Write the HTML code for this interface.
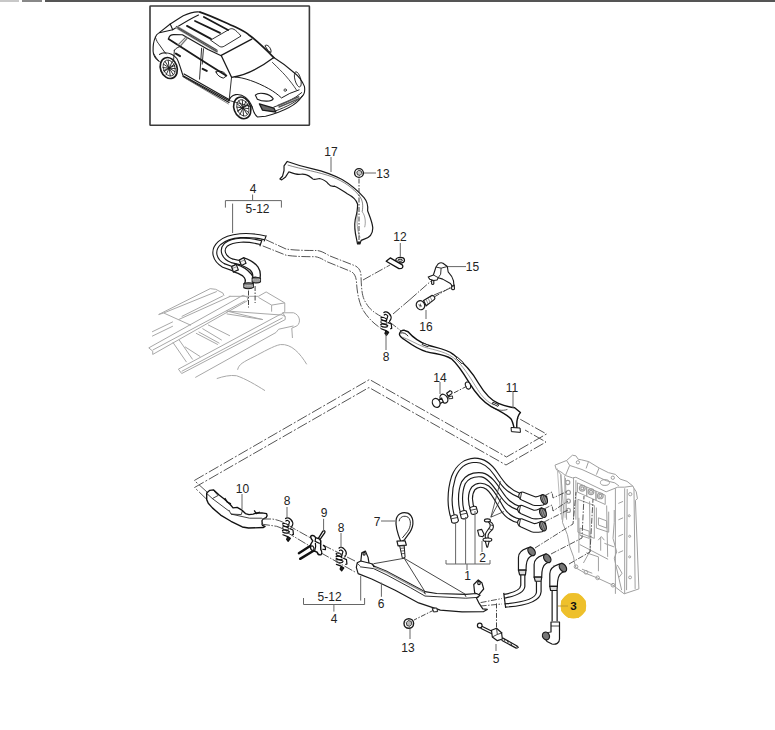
<!DOCTYPE html>
<html><head><meta charset="utf-8">
<style>
html,body{margin:0;padding:0;background:#fff;width:775px;height:730px;overflow:hidden}
svg{position:absolute;left:0;top:0}
svg *{vector-effect:non-scaling-stroke}
text{font-family:"Liberation Sans",sans-serif;font-size:12px;fill:#222;text-anchor:middle}
</style></head><body>
<svg width="775" height="730" viewBox="0 0 775 730">
<!-- top bar -->
<rect x="0" y="0" width="19" height="2" fill="#c8c8c8"/>
<rect x="22" y="0" width="20" height="2" fill="#888"/>
<rect x="45" y="0" width="730" height="2" fill="#555"/>
<!-- car box -->
<rect x="150" y="6" width="159.4" height="119.3" rx="0.6" fill="none" stroke="#3a3a3a" stroke-width="1.6"/>



<!-- chassis (light gray) -->
<g fill="none" stroke="#a8a8a8" stroke-width="1" stroke-linejoin="round">
<g transform="translate(140,270) scale(0.21935)">
<path d="M85,203 L320,85 L345,88 L378,105 L383,118"/>
<path d="M85,203 L108,196 L232,252"/>
<path d="M108,196 L350,98"/>
<path d="M190,212 L378,118 M176,226 L412,120"/>
<path d="M55,282 L150,236 M55,302 L150,256"/>
<path d="M40,355 L470,115 L490,125 L490,140 L58,385 L58,370 Z"/>
<path d="M175,452 L640,202 L662,212 L662,226 L190,472 Z"/>
<path d="M150,330 L212,420 M178,318 L240,408"/>
<path d="M255,288 L355,340 M267,282 L362,334 M284.7,267 L372.9,320 M310,250 L410,300 M205,350 L275,395 M58,365 L480,140 M190,462 L650,218"/>
<path d="M395,187 L640,205 M395,200 L560,226 L395,187"/>
<path d="M405,120 L540,120 L575,100 L660,150 L660,190 L640,205 M540,125 L600,160 L660,150 M600,160 L600,190"/>
<path d="M662,212 L650,195 L700,195 C730,205 735,240 715,255 L692,265 L695,310"/>
<path d="M252,490 L620,285 L632,270 L700,255"/>
<path d="M445,455 C450,430 470,420 520,395 C560,375 610,345 640,340 C690,335 730,380 760,430"/>
<path d="M350,495 C380,485 410,478 440,482 C480,495 530,525 570,550"/>
</g>
</g>
<!-- dashed slab -->
<g fill="none" stroke="#555" stroke-width="1" stroke-dasharray="11 2 2 2">
<path d="M207,492 L194.3,480.5 L369.5,379.5 L506.5,457 L546.5,434 L518,418"/>
<path d="M207,499.6 L194.5,487.5 L369,387.5 L506,465 L546,442 L525,430"/>
</g>


<!-- hose 4 upper -->
<g transform="translate(200,220) scale(0.10959)" fill="none" stroke-linecap="butt">
<path d="M595,163 C450,128 270,130 178,210 C102,280 135,370 215,415 L300,445" stroke="#1a1a1a" stroke-width="5"/>
<path d="M595,163 C450,128 270,130 178,210 C102,280 135,370 215,415 L300,445" stroke="#fff" stroke-width="2.8"/>
<path d="M558,207 C430,173 300,175 236,226 C188,275 216,343 290,372 L375,392" stroke="#1a1a1a" stroke-width="5"/>
<path d="M558,207 C430,173 300,175 236,226 C188,275 216,343 290,372 L375,392" stroke="#fff" stroke-width="2.8"/>
<path d="M605,140 L585,195 M568,175 L546,240" stroke="#1a1a1a" stroke-width="1.2"/>
<!-- elbows -->
<path d="M290,425 L330,405 C380,420 430,450 465,490 C490,520 490,560 482,585 L405,585 C420,555 415,530 390,510 C360,490 320,475 302,470 Z" fill="#fff" stroke="#1a1a1a" stroke-width="1.3"/>
<path d="M290,425 L330,405 L350,455 L305,475 Z" fill="#f4f4f4" stroke="#1a1a1a" stroke-width="1.1"/>
<path d="M300,440 L338,425" stroke="#777" stroke-width="0.8"/>
<path d="M400,580 C420,570 470,570 487,582 L487,615 C470,630 420,630 400,618 Z" fill="#777" stroke="#1a1a1a" stroke-width="1.1"/>
<path d="M403,594 C430,600 465,600 485,594 M403,606 C430,612 465,612 485,606" stroke="#ccc" stroke-width="0.8"/>
<path d="M360,365 L400,345 C450,360 500,390 530,430 C550,460 552,510 547,535 L480,530 C485,500 478,475 455,455 C430,435 395,420 377,413 Z" fill="#fff" stroke="#1a1a1a" stroke-width="1.3"/>
<path d="M360,365 L400,345 L420,395 L378,415 Z" fill="#f4f4f4" stroke="#1a1a1a" stroke-width="1.1"/>
<path d="M370,380 L408,365" stroke="#777" stroke-width="0.8"/>
<path d="M476,528 C495,518 535,520 552,532 L552,565 C535,578 495,578 476,566 Z" fill="#777" stroke="#1a1a1a" stroke-width="1.1"/>
<path d="M479,542 C500,548 530,548 550,542 M479,554 C500,560 530,560 550,554" stroke="#ccc" stroke-width="0.8"/>
</g>
<path d="M248.5,290.5 V307.5 M255.1,286 V303" stroke="#444" stroke-width="1" stroke-dasharray="5 1.5 1.5 1.5"/>
<!-- dashed hose path -->
<g fill="none" stroke="#555" stroke-width="1" stroke-dasharray="9 1.5 1.5 1.5">
<path d="M265.8,239.7 L286,249 C295,250.5 310,250.5 317,250.5 C322,251 326,254 330,256 L355.6,266 C359,268 361,271 361,276 C361.5,290 362,297 366,303 C370,310 375,313 382,317"/>
<path d="M262.7,245.9 L286,255.2 C295,256.7 308,256.7 315.4,256.7 C320,257.5 323,259.5 326.2,261.4 L351,271.5 C354,273 356,276 356.5,282 C357,292 359,303 363,310 C368,318 374,324 382,329"/>
<path d="M389,321.5 L405,334 M363,280 L390,265 M393,314 L410,299.5 M410,299.5 L431,281 M434,295 L453,287"/>
</g>


<!-- bracket 17 -->
<g transform="translate(275,155) scale(0.129)" fill="#fff" stroke="#1a1a1a" stroke-width="1.2" stroke-linejoin="round">
<path d="M95,50 C150,70 200,88 300,110 C380,128 460,160 520,190 C580,225 640,275 690,330 C715,360 722,400 718,432 C732,470 755,520 758,565 C758,608 732,640 692,652 L668,662 L658,690 L640,690 L632,650 C620,600 615,540 622,500 C630,470 642,430 640,380 C630,345 600,320 560,300 C530,280 500,258 462,242 C440,245 425,240 415,225 C400,205 380,190 345,182 C320,186 305,195 292,185 C275,170 265,158 240,152 C215,145 205,150 185,150 C160,150 130,138 108,130 L82,170 L52,193 L38,186 L58,165 L70,120 L70,85 Z"/>
<path d="M98,78 C200,108 350,135 440,168 C540,208 600,252 655,318 C685,358 682,400 676,440" fill="none" stroke-width="0.8" stroke="#666"/>
<path d="M676,440 C700,470 705,520 695,560 M640,440 C630,520 640,600 660,640" fill="none" stroke-width="0.7" stroke="#777"/>
<path d="M640,680 L660,680" fill="none" stroke-width="2.5"/>
</g>
<!-- nut 13 top -->
<circle cx="359" cy="173" r="4.4" fill="#fff" stroke="#1a1a1a" stroke-width="1.4"/>
<path d="M356.8,172 L358.5,170.3 L361.2,171 L361.8,173.6 L360,175.4 L357.4,174.7 Z" fill="#ccc" stroke="#1a1a1a" stroke-width="0.8"/>
<path d="M359,178.5 V240" stroke="#444" stroke-width="1" stroke-dasharray="5 1.5 1.5 1.5"/>
<!-- bracket 12 -->
<g transform="translate(380,250) scale(0.03871)" fill="#fff" stroke="#111" stroke-width="1.3" stroke-linejoin="round">
<ellipse cx="520" cy="262" rx="112" ry="70"/>
<ellipse cx="520" cy="265" rx="58" ry="28" stroke-width="1"/>
<path d="M160,290 L265,205 L565,378 C600,400 598,455 560,472 L490,480 Z"/>
</g>
<!-- bracket 15 -->
<g transform="translate(405,250) scale(0.10323)" fill="#fff" stroke="#1a1a1a" stroke-width="1.1" stroke-linejoin="round">
<path d="M258,292 L258,328 C262,336 275,336 279,328 L279,292 Z M452,340 L452,378 C456,387 474,387 479,378 L477,340 Z"/>
<path d="M300,165 L320,135 C335,125 355,122 368,128 L410,160 L418,212 C440,235 462,262 470,300 L474,345 L458,350 L440,325 L365,282 L322,268 L310,290 L278,296 L240,284 L225,262 L275,242 Z"/>
<path d="M300,165 L350,176 L410,160 M350,176 L345,235 L322,268 M275,242 L322,268" fill="none" stroke-width="0.9"/>
</g>
<!-- screw 16 -->
<g transform="translate(405,250) scale(0.10323)" fill="#fff" stroke="#1a1a1a" stroke-width="1.2">
<path d="M180,490 L262,440 C285,440 295,470 285,478 L205,540 Z"/>
<path d="M205,480 L225,525 M225,468 L245,512 M245,456 L265,498" fill="none" stroke-width="0.7" stroke="#666"/>
<ellipse cx="150" cy="535" rx="40" ry="45" transform="rotate(-30 150 535)"/>
<path d="M130,530 L165,545 M150,520 L145,555" fill="none" stroke-width="0.7"/>
</g>
<path d="M435,296.5 L452,286.6" stroke="#444" stroke-width="1" stroke-dasharray="5 1.5 1.5 1.5"/>
<!-- clip 8 upper -->
<defs>
<g id="clip8">
<g transform="scale(0.04386)" fill="none" stroke="#111" stroke-width="1.2" stroke-linecap="round" stroke-linejoin="round">
<path d="M240,150 C260,120 320,130 360,170 C400,210 415,260 400,300 L370,350"/>
<path d="M250,205 C270,180 310,190 330,230 L300,330"/>
<path d="M175,270 C200,250 260,260 300,300 M172,345 C200,320 270,330 310,370 M170,420 C200,400 280,410 330,450"/>
<path d="M178,300 C210,330 260,340 300,335 M175,380 C210,410 270,420 310,410 M175,455 C210,480 270,490 320,470"/>
<path d="M340,380 L410,410 L420,510 L395,520"/>
<path d="M180,520 L290,560 L265,625 L300,670 L350,600 L290,560" fill="#222"/>
</g>
</g>
</defs>
<use href="#clip8" transform="translate(373.3,306)"/>
<use href="#clip8" transform="translate(275,512)"/>
<use href="#clip8" transform="translate(328.5,541.6)"/>
<!-- hose 11 -->
<g transform="translate(390,320) scale(0.18065)" fill="#fff" stroke="#111" stroke-width="1.4" stroke-linejoin="round">
<path d="M52,78 C55,62 68,55 80,57 L100,65 C130,100 170,125 210,140 C260,155 310,160 350,190 C400,230 450,280 490,350 C520,400 550,440 600,462 C630,475 660,482 690,486 L722,512 C705,530 700,560 702,595 L690,610 C685,590 680,560 668,545 C640,520 600,500 560,480 C510,450 470,400 440,350 C410,300 380,250 340,215 C300,190 260,190 200,175 C150,160 110,130 85,112 C65,100 52,92 52,78 Z"/>
<path d="M68,95 C100,105 140,130 190,150 C250,168 320,175 370,225 C420,275 450,330 485,385 C510,425 540,455 575,470" fill="none" stroke-width="0.8" stroke="#888"/>
<path d="M58,72 C75,68 90,75 100,90" fill="none" stroke-width="0.9"/>
<path d="M182,128 L215,140 L210,148 L178,136 Z M372,205 L405,235 L398,242 L366,212 Z M570,455 L602,470 L597,478 L565,462 Z" stroke-width="0.9"/>
<path d="M560,478 C590,500 620,505 650,495" fill="none" stroke-width="0.7"/>
<path d="M670,595 L720,598 L722,622 L672,618 Z" stroke-width="1"/>
</g>
<!-- clip 14 -->
<g transform="translate(425,370) scale(0.0774)" fill="#fff" stroke="#1a1a1a" stroke-width="1.2">
<path d="M280,300 L325,268 C345,270 355,290 345,305 L300,340 Z"/>
<path d="M305,345 L355,335 L358,368 L310,372 Z" stroke-width="0.9"/>
<ellipse cx="245" cy="370" rx="45" ry="62" transform="rotate(-35 245 370)"/>
<path d="M170,395 L215,365 L235,410 L185,440 Z"/>
<ellipse cx="145" cy="425" rx="48" ry="60" transform="rotate(-25 145 425)"/>
<ellipse cx="555" cy="200" rx="32" ry="48" transform="rotate(-20 555 200)" stroke-width="1"/>
<path d="M375,295 L540,210" stroke="#444" stroke-width="1" stroke-dasharray="5 1.5 1.5 1.5"/>
</g>


<!-- part 10 -->
<g transform="translate(200,480) scale(0.10323)" fill="#fff" stroke="#111" stroke-width="1.35" stroke-linejoin="round">
<path d="M65,125 L95,100 L130,95 L185,145 L235,185 L295,240 L320,270 L360,265 L410,295 L440,325 L475,335 L515,330 L545,320 L600,318 L645,325 L650,345 L640,365 L610,378 L600,395 L605,440 L630,450 L615,460 L470,465 L410,455 L300,400 L200,340 L120,270 L80,225 L65,190 Z"/>
<path d="M65,130 L120,180 L175,150 L130,100 M120,180 L280,300 M280,290 L300,330 L400,335 L410,300 M300,330 L480,370 L600,370" fill="none" stroke-width="0.8"/>
<path d="M240,175 L265,215 L300,230 M525,295 L545,325 L580,310" fill="none" stroke-width="1.3"/>
</g>
<path d="M262,519 L272,519 C280,520 285,523 292,527.5 L325,546 L355,561" fill="none" stroke="#555" stroke-width="1" stroke-dasharray="9 1.5 1.5 1.5"/>
<path d="M261,524 L276.6,526.3 C282,528 285,530 288,533 L323,554 L355,572" fill="none" stroke="#555" stroke-width="1" stroke-dasharray="9 1.5 1.5 1.5"/>
<!-- clips 8 lower + T 9 -->
<g transform="translate(265,495) scale(0.11613)" fill="#fff" stroke="#1a1a1a" stroke-width="1.1" stroke-linejoin="round">

</g>
<g transform="translate(295,528) scale(0.05161)" fill="#fff" stroke="#111" stroke-width="1.2" stroke-linejoin="round">
<path d="M75,488 L330,325 M100,598 L360,440" stroke-width="2.4" stroke-linecap="round"/>
<path d="M450,205 L540,60 C560,38 590,58 578,90 L490,215" stroke-width="1.3"/>
<path d="M305,160 C320,135 370,140 400,185 L470,210 C500,230 505,270 495,300 L500,420 C520,450 525,500 500,520 C470,525 440,510 430,470 L380,450 C330,440 300,400 300,360 C300,320 320,280 345,250 C320,220 295,190 305,160 Z" stroke-width="1.4"/>
<ellipse cx="335" cy="390" rx="30" ry="45" transform="rotate(-20 335 390)"/>
<path d="M400,185 L390,260 L480,300 M380,450 L400,360 L395,290" fill="none"/>
<path d="M540,335 C570,340 595,370 590,420 L530,412" fill="none"/>
</g>
<path d="M323.6,518.8 V532" stroke="#666" stroke-width="1"/>
<!-- part 6 -->
<g transform="translate(350,505) scale(0.18065)" fill="#fff" stroke="#1a1a1a" stroke-width="1.2" stroke-linejoin="round">
<path d="M60,310 L65,265 L85,255 L100,290 L105,320 L90,330 Z"/>
<path d="M690,485 L685,440 L710,415 L730,430 L740,465 L710,500 Z"/>
<ellipse cx="714" cy="432" rx="7" ry="9"/>
<ellipse cx="78" cy="270" rx="6" ry="8"/>
<path d="M40,320 L60,310 L120,325 L135,340 L200,365 L330,435 L415,480 L480,490 L640,495 L700,490 L720,500 L700,515 L715,545 L735,575 L760,578 L740,590 L620,592 L500,582 L380,542 L250,472 L120,410 L45,380 L35,345 Z"/>
<path d="M138,346 L202,372 L332,442 L416,487" fill="none" stroke="#999" stroke-width="1.4"/><path d="M55,342 L130,352 L205,388 L335,458 L415,504 L640,516 L712,511" fill="none" stroke-width="0.9"/>
<path d="M40,322 L55,337" fill="none" stroke-width="0.8"/>
<path d="M125,325 L132,345 M410,482 L418,494 M635,496 L642,508" fill="none" stroke-width="1"/>
<path d="M455,572 L480,570 L485,590 L462,592 Z" stroke-width="1"/>
<path d="M300,295 L130,325 M300,295 L415,480 M300,295 L640,495" fill="none" stroke="#333" stroke-width="0.9"/>
</g>
<path d="M434,610 L414,620" stroke="#444" stroke-width="1" stroke-dasharray="5 1.5 1.5 1.5"/>
<!-- tie 7 -->
<g transform="translate(350,505) scale(0.18065)" fill="#fff" stroke="#1a1a1a" stroke-width="1.2" stroke-linejoin="round">
<path d="M255,85 C258,50 290,35 320,45 C352,60 358,110 332,150 L302,192 L282,205 C268,170 250,120 255,85 Z"/>
<path d="M272,90 C275,65 300,55 322,68 C340,85 338,120 318,148 L290,182" fill="none" stroke-width="0.9"/>
<path d="M260,200 L305,198 L312,222 L266,226 Z"/>
<path d="M275,226 L300,226 L305,290 L290,295 Z" stroke-width="1"/>
<path d="M280,240 L300,238 M282,255 L302,253 M285,270 L303,268" fill="none" stroke-width="0.7"/>
</g>
<!-- hose bundle 1 -->
<g transform="translate(445,450) scale(0.14194)" fill="none" stroke-linecap="butt">
<g id="tubesB">
<path d="M62,490 C30,420 25,300 60,190 C90,110 150,75 210,72 C270,72 320,110 360,170 C400,230 440,290 530,322" stroke="#1a1a1a" stroke-width="5.2"/>
<path d="M62,490 C30,420 25,300 60,190 C90,110 150,75 210,72 C270,72 320,110 360,170 C400,230 440,290 530,322" stroke="#fff" stroke-width="2.9"/>
<path d="M130,460 C105,400 100,300 130,230 C160,180 210,170 260,175 C310,185 350,240 390,300 C430,360 460,390 525,412" stroke="#1a1a1a" stroke-width="5.2"/>
<path d="M130,460 C105,400 100,300 130,230 C160,180 210,170 260,175 C310,185 350,240 390,300 C430,360 460,390 525,412" stroke="#fff" stroke-width="2.9"/>
<path d="M200,430 C175,380 170,310 200,270 C225,245 265,240 300,265 C340,295 370,360 400,410 C430,460 470,490 525,500" stroke="#1a1a1a" stroke-width="5.2"/>
<path d="M200,430 C175,380 170,310 200,270 C225,245 265,240 300,265 C340,295 370,360 400,410 C430,460 470,490 525,500" stroke="#fff" stroke-width="2.9"/>
</g>
<g fill="#fff" stroke="#1a1a1a" stroke-width="1.1">
<path d="M40,470 C50,458 75,452 85,460 L95,498 C90,515 60,520 48,510 Z"/>
<path d="M105,440 C115,428 140,422 150,430 L162,468 C157,485 127,490 115,480 Z"/>
<path d="M175,410 C185,398 210,392 220,400 L230,436 C225,453 195,458 185,448 Z"/>
<path d="M45,485 L90,475 M110,455 L155,445 M180,425 L225,415" stroke-width="0.8"/>
</g>

</g>
<!-- clip 2 + boots -->
<g transform="translate(470,480) scale(0.11613)" fill="#fff" stroke="#1a1a1a" stroke-width="1.1" stroke-linejoin="round">
<path d="M180,320 L262,10 M180,320 L272,150 M180,320 L292,272" fill="none" stroke="#333" stroke-width="0.8"/>
<path d="M420,130 C425,110 440,100 460,105 L560,145 C580,150 600,135 625,125 L660,140 L665,190 L630,215 C600,220 570,225 540,215 L450,175 C430,165 418,150 420,130 Z"/>
<path d="M410,245 C415,225 430,215 450,220 L550,260 C570,265 590,250 615,240 L650,255 L655,305 L620,330 C590,335 560,340 530,330 L440,290 C420,280 408,265 410,245 Z"/>
<path d="M410,360 C415,340 430,330 450,335 L550,375 C570,380 590,365 615,355 L650,370 L655,420 L620,445 C590,450 560,455 530,445 L440,405 C420,395 408,380 410,360 Z"/>
<path d="M445,103 L432,168 M435,218 L422,283 M435,333 L422,398" fill="none" stroke-width="0.9"/>
<g fill="#999" stroke-width="1.1">
<ellipse cx="638" cy="168" rx="26" ry="42" transform="rotate(-25 638 168)"/>
<ellipse cx="628" cy="283" rx="26" ry="42" transform="rotate(-25 628 283)"/>
<ellipse cx="628" cy="398" rx="26" ry="42" transform="rotate(-25 628 398)"/>
</g>
<path d="M615,140 L640,210 M630,135 L655,200 M605,255 L630,325 M620,250 L645,315 M605,370 L630,440 M620,365 L645,430" fill="none" stroke="#444" stroke-width="0.8"/>
<ellipse cx="150" cy="348" rx="26" ry="13"/>
<path d="M170,358 C200,370 210,400 195,425 L175,445 C160,460 150,480 158,500 L135,505 C125,480 135,455 150,435 L168,410 C178,395 172,375 160,362 Z"/>
<path d="M175,385 L200,395 M165,420 L190,430" fill="none" stroke-width="0.8"/>
<path d="M65,432 L100,425 L122,470 L110,488 L78,482 Z"/>
<ellipse cx="150" cy="515" rx="38" ry="15"/>
<path d="M132,528 L165,528 L152,578 L145,578 Z"/>
</g>
<!-- ECU -->
<g transform="translate(545,450) scale(0.20548)" fill="none" stroke="#a0a0a0" stroke-width="1" stroke-linejoin="round">
<path d="M48.7,73.5 L105.2,50.9 L133.5,25.4 L150.4,28.3 L161.7,45.2 L178.7,48 L212.6,56.5 L263.5,87.6 L308.7,110.2 L342.6,118.7 L365.2,141.3 L399.1,152.6 L427.4,175.2 L433,186.5 L444,203 L450,237 L440,245 L457,676 L385,700 L331,658 L253,622 L193,598 L151,574 L145,556 L139,520 L121,472 L109,412 L85,352 L91,292 L77,118.7 L54.3,93.3 Z"/>
<path d="M54.3,93.3 L82.6,110.2 L99.5,124.3 L133.5,135.6 L150.4,132.8 L297.4,203.5 L353.9,180.9 L387.8,180.9 L427.4,175.2"/>
<path d="M105,51 L120,75 L150,85 L180,95 L300,150 L340,160 L360,175 M212,56 L200,90 M263,88 L250,120 M120,75 L99.5,124.3"/>
<path d="M139,135.6 L139,339 M150.4,147 L150.4,339 M99.5,135.6 L105.2,339 M77,118.7 L82.6,339"/>
<path d="M342.6,186.5 L342.6,700 M387.8,186.5 L387.8,700 M433,186.5 L438.7,676 M400,190 L397,682 M337,292 L337,352 L331,430 L349,496 L337,526 L373,682"/>
<path d="M217,250 L220,496 M169,460 L307,532 M187,550 L217,496 M271,424 L271,490 M259,439 L274,421 L289,439 M289,454 L337,472"/>
<path d="M160,240 L160,400 L240,430 L240,270 Z M250,280 L250,380 L310,400 L310,300"/>
<path d="M170,380 L215,395 L215,430 L170,415 Z M260,330 L300,345 L300,380 L260,365 Z"/>
<path d="M357,260 L380,250 M357,340 L380,330 M357,420 L380,410 M357,500 L380,490 M352,560 L375,600 L360,620"/>
<g stroke-width="1.2">
<circle cx="110.8" cy="158.3" r="10"/><circle cx="113.7" cy="206.3" r="10"/><circle cx="113.7" cy="248.7" r="10"/><circle cx="113.7" cy="293.9" r="10"/>
<circle cx="181.5" cy="186.5" r="14"/><circle cx="223.9" cy="203.5" r="14"/><circle cx="269.1" cy="223.3" r="14"/>
<circle cx="181.5" cy="186.5" r="7"/><circle cx="223.9" cy="203.5" r="7"/><circle cx="269.1" cy="223.3" r="7"/>
</g>
<ellipse cx="291.7" cy="158.3" rx="22" ry="14"/>
<path d="M158,160 L203,180 L203,225 L158,205 Z M203,180 L248,200 L248,245 L203,225 Z M248,200 L293,220 L293,265 L248,245 Z"/>
<path d="M60,90 L75,300 M95,125 L98,330 M40,560 L60,600" stroke="#bbb"/>
<path d="M165,330 L165,500 M200,500 L260,520 L260,590 M300,270 L305,520 M180,580 L230,600" />
<circle cx="160" cy="60" r="8"/><circle cx="330" cy="135" r="8"/>
<circle cx="151" cy="568" r="9"/><circle cx="199" cy="595" r="9"/><circle cx="256" cy="622" r="9"/><circle cx="331" cy="658" r="9"/>
<circle cx="415" cy="215" r="8"/><circle cx="410" cy="320" r="5"/><circle cx="412" cy="420" r="5"/><circle cx="412" cy="520" r="5"/><circle cx="414" cy="620" r="7"/>
</g>
<g fill="none" stroke="#444" stroke-width="0.9" stroke-dasharray="6 1.5 1.5 1.5">
<path d="M544,496 L552,492 L553,498 L568,491"/>
<path d="M544,509 L552,505 L553,511 L568,501"/>
<path d="M544,522 L568,510"/>
<path d="M535,548 L573,524 L576,492"/>
<path d="M551,554 L582,538 L584,496"/>
<path d="M569,564 L590,552 L593,499"/>
</g>
<!-- lower elbow hoses -->
<g transform="translate(490,540) scale(0.11613)" fill="#fff" stroke="#1a1a1a" stroke-width="1.2" stroke-linejoin="round">
<path d="M265,300 L265,390 C262,430 200,455 120,468 M300,300 L300,400 C295,450 230,480 130,500" fill="none"/>
<path d="M400,355 L400,450 C395,500 300,535 125,550 M440,355 L440,445 C435,520 330,565 130,578" fill="none"/>
<path d="M535,435 V700 M578,435 V700" fill="none"/>
<path d="M118,455 L135,585" fill="none"/>
<path d="M245,260 L245,150 C245,110 275,85 320,70 L350,60 L385,120 L345,145 C320,160 310,190 310,260 Z"/>
<path d="M245,260 L310,260 L305,300 L255,300 Z" fill="#ddd"/>
<ellipse cx="358" cy="98" rx="27" ry="40" transform="rotate(-35 358 98)" fill="#777"/>
<path d="M380,320 L380,210 C380,170 410,145 455,130 L485,120 L520,180 L480,205 C455,220 445,250 445,320 Z"/>
<path d="M380,320 L445,320 L440,355 L390,355 Z" fill="#ddd"/>
<ellipse cx="493" cy="158" rx="27" ry="40" transform="rotate(-35 493 158)" fill="#777"/>
<path d="M515,400 L515,290 C515,250 545,225 590,210 L620,200 L655,260 L615,285 C590,300 580,330 580,400 Z"/>
<path d="M515,400 L580,400 L577,435 L522,435 Z" fill="#ddd"/>
<ellipse cx="628" cy="238" rx="27" ry="40" transform="rotate(-35 628 238)" fill="#777"/>
</g>
<path d="M480.6,602.6 L502,598.5 M480.6,606 L502,604" stroke="#555" stroke-width="1" stroke-dasharray="6 1.5 1.5 1.5"/>
<!-- hose 3 lower -->
<g fill="#fff" stroke="#1a1a1a" stroke-width="1.2" stroke-linejoin="round">
<path d="M551,622 L559.5,622 L559.5,639 C559.5,643 556,645 552,644 L547,641.5 L545,638 C545,634 548,632 551,632 Z"/>
<path d="M551,626 L559.5,626" fill="none" stroke-width="0.8"/>
<ellipse cx="546" cy="636" rx="3.4" ry="4" transform="rotate(-30 546 636)" fill="#777"/>
</g>
<!-- nut 13 bottom -->
<circle cx="408.8" cy="623.5" r="4.8" fill="#fff" stroke="#1a1a1a" stroke-width="1.4"/>
<path d="M406.3,622.5 L408.3,620.5 L411.2,621.3 L411.8,624.3 L409.8,626.3 L406.9,625.5 Z" fill="#bbb" stroke="#1a1a1a" stroke-width="0.8"/>
<!-- part 5 -->
<g transform="translate(395,595) scale(0.1678)" fill="#fff" stroke="#1a1a1a" stroke-width="1.2" stroke-linejoin="round">
<path d="M515,185 L590,222 M510,198 L580,232" fill="none"/>
<circle cx="505" cy="182" r="14"/>
<path d="M640,255 L730,305 M635,270 L725,318" fill="none"/>
<path d="M725,305 L735,312 L725,318" fill="none"/>
<path d="M575,210 L605,198 L635,225 L640,262 L610,272 L580,250 Z"/>
<path d="M605,198 L610,235 L640,225 M580,250 L610,235" fill="none" stroke-width="0.8"/>
<path d="M650,260 L655,275 M670,272 L675,287 M690,283 L695,298" fill="none" stroke-width="0.8"/>
</g>
<path d="M496.5,603.4 V627.7" stroke="#444" stroke-width="1" stroke-dasharray="5 1.5 1.5 1.5"/>


<!-- car -->
<g transform="translate(150,10) scale(0.20645)" fill="none" stroke="#1a1a1a" stroke-width="1.1" stroke-linejoin="round" stroke-linecap="round">
<path d="M42,247 C25,235 16,220 15,200 C14,175 18,150 26,132 C30,120 36,115 42,112 L98,68 C120,55 140,40 161,28 C200,10 230,8 242,10"/><path d="M242,10 C290,25 340,50 414,82.5 C450,100 470,110 482.8,123.8 C520,150 560,190 599.7,230.3" stroke-width="1.7"/>
<path d="M98,68 L110,96 L46,110 M110,96 C150,70 200,40 235,24"/>
<path d="M599.7,230.3 C640,255 682,289 700,305 C720,320 737,344 748,370 C752,395 748,410 735,420 C710,460 650,490 560,515 L520,518 C505,505 500,490 495,470"/>
<path d="M495,470 C480,430 450,405 415,410 C395,415 385,430 383,440 L160,318 C150,290 140,250 130,235 C115,215 95,207 70,207 C60,208 52,211 46,215"/>
<path d="M345,220 L493,141 M345,220 L395,326 C450,320 520,290 599.7,230.3" stroke-width="1.3"/>
<path d="M131,84 L322,198" stroke-width="3.2" stroke="#999"/><path d="M128,80 L322,193 M136,90 L325,202" stroke-width="0.8" stroke="#333"/>
<path d="M179,77 L295,140 M218,53 L339,111 M261,34 L378,97" stroke-width="1.8"/>
<path d="M295,145 L387,92 C400,88 410,90 441,126 L360,175 C352,180 345,180 340,178 Z" stroke-width="0.9"/>
<path d="M90,138 C93,126 103,119 115,119 L157,120 L281,191 L345,222" stroke-width="1.2"/><path d="M90,141 L281,263 L370,318" stroke-width="1.8"/>
<path d="M133.6,171.5 L173.4,131.7 M145.5,175.5 L181.3,135.7" stroke-width="1.2" stroke="#777"/>
<path d="M250,185 L240,335 M259,188 L253,262" stroke-width="0.9"/>
<path d="M125.6,211.3 L145.5,223.2" stroke-width="2"/>
<path d="M255,285 L275,295" stroke-width="2"/>
<path d="M160,322 L383,448 M165,310 L385,435" stroke-width="1.2"/>
<path d="M170,330 L380,455" stroke-width="0.8" stroke="#666"/>
<path d="M395,326 L383,440" stroke-width="0.9"/>
<path d="M320,300 C340,290 365,300 370,320 L355,330 C340,325 325,318 320,300 Z" stroke-width="1"/>
<path d="M26,132 C32,150 38,160 42,163.5 L70,203 L78,211 M118,195 L114,247 M118,195 C125,185 135,180 150,176" stroke-width="0.9"/>
<path d="M18,211 C25,225 35,240 46,250" stroke-width="0.8"/>
<ellipse cx="91" cy="281" rx="40" ry="52" transform="rotate(-20 91 281)" stroke-width="1.7"/>
<ellipse cx="93" cy="281" rx="28" ry="40" transform="rotate(-20 93 281)" stroke-width="0.8"/>
<path d="M73,249 L113,314 M63,279 L123,284 M78,314 L108,249 M68,299 L118,262 M88,244 L98,319 M65,262 L121,299 M65,294 L119,269" stroke-width="0.9"/>
<ellipse cx="447" cy="474" rx="40" ry="54" transform="rotate(-20 447 474)" stroke-width="1.6"/>
<ellipse cx="450" cy="474" rx="28" ry="41" transform="rotate(-20 450 474)" stroke-width="0.8"/>
<path d="M430,440 L470,505 M420,470 L478,478 M435,508 L465,442 M425,490 L475,455 M447,436 L453,512 M422,455 L476,495 M424,488 L476,460" stroke-width="0.9"/>
<path d="M495,470 L390,440" stroke-width="0.8"/>
<path d="M412,325 C450,325 520,350 575,381 C600,395 620,410 637,426 L677,404 L722,387" stroke-width="1"/>
<path d="M593,254 C620,280 640,300 654.7,316 C680,345 695,365 709.7,387.8" stroke-width="0.8"/>
<ellipse cx="716" cy="336" rx="14" ry="38" transform="rotate(-15 716 336)" stroke-width="0.9"/>
<path d="M510,412 C530,395 580,405 597,430 C590,445 545,445 520,432 Z" stroke-width="1.1"/>
<path d="M530,455 L600,475 L610,495 L545,485 Z" stroke-width="1.3" fill="#666"/>
<path d="M600,470 C650,455 700,430 735,400 M610,488 C660,470 710,445 740,415" stroke-width="0.9"/>
<path d="M620,462 L720,420 M625,470 L725,428" stroke-width="1.5" stroke="#555"/>
<circle cx="655" cy="388" r="6" stroke-width="0.8"/>
<path d="M558,172 C565,165 580,175 586,195 L586,206 L575,200 Z" stroke-width="1"/>
</g>

<!-- leaders & brackets -->
<g fill="none" stroke="#666" stroke-width="1">
<path d="M225.4,207.6 V200.6 H281.4 V207.6 M252.6,200.6 V194.5 M232.6,203.6 V233"/>
<path d="M303.5,598 V604.5 H364.6 V598 M333.9,604.5 V611.6 M360.7,576 V600.6"/>
<path d="M446,560 V564 H490 V560 M467,564 V570 M455.6,522 V564 M465.6,517 V564 M475,511 V564"/>
<path d="M331,157 V172 M364,173 H376 M400.3,243 V256.8 M448,266.6 H466 M426,310 V319 M386,334 V350 M440,382 V394 M513,392 V408"/>
<path d="M242,494 V509 M287,507 V518 M341,533 V548 M381,521 H395 M381.4,582.6 V596.8 M482,541 V552 M410,629 V639 M496,644 V651"/>
</g>
<polygon points="585.7,610.9 578.5,618.1 568.3,618.1 561.1,610.9 561.1,600.7 568.3,593.5 578.5,593.5 585.7,600.7" fill="#EEC02B"/><circle cx="573.4" cy="605.8" r="12.8" fill="#EEC02B"/>
<path d="M558,606 H568" stroke="#b89530" stroke-width="0.9"/>
<text x="573.6" y="610.2" style="font-size:11.6px;font-weight:bold;fill:#111">3</text>

<!-- labels -->
<g id="labels">
<text x="253" y="193">4</text>
<text x="257.5" y="212.8">5-12</text>
<text x="331" y="155.5">17</text>
<text x="383" y="177.5">13</text>
<text x="400" y="240.5">12</text>
<text x="472.5" y="270.5">15</text>
<text x="426" y="330.5">16</text>
<text x="386" y="360.5">8</text>
<text x="440" y="381.5">14</text>
<text x="512" y="391.5">11</text>
<text x="242.5" y="492.8">10</text>
<text x="287" y="505.3">8</text>
<text x="324" y="516.5">9</text>
<text x="341" y="531.8">8</text>
<text x="377" y="525.5">7</text>
<text x="467.5" y="579.5">1</text>
<text x="482.5" y="561.5">2</text>
<text x="381.2" y="607.5">6</text>
<text x="329.6" y="600.8">5-12</text>
<text x="334" y="622.5">4</text>
<text x="408" y="651.5">13</text>
<text x="496" y="662.5">5</text>
</g>
</svg>
</body></html>
